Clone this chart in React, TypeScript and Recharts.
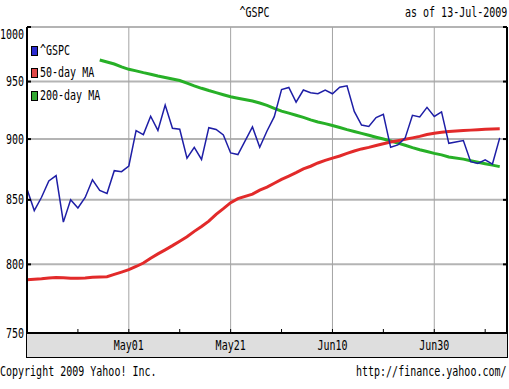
import React from 'react';
import { LineChart, Line, XAxis, YAxis, CartesianGrid, ReferenceLine } from 'recharts';

// x = weekday index counted from Apr 13 2009 (holidays 30 = May 25, 59 = Jul 3 have no rows)
const tradingDay = [
  0, 1, 2, 3, 4, 5, 6, 7, 8, 9, 10, 11, 12, 13, 14, 15, 16, 17, 18, 19, 20, 21, 22, 23, 24, 25, 26, 27, 28, 29,
  31, 32, 33, 34, 35, 36, 37, 38, 39, 40, 41, 42, 43, 44, 45, 46, 47, 48, 49, 50, 51, 52, 53, 54, 55, 56, 57, 58,
  60, 61, 62, 63, 64, 65,
];

const gspc = [
  858.73, 841.5, 852.06, 865.3, 869.6, 832.39, 850.08, 843.55, 851.92, 866.23, 857.51, 855.16, 873.64, 872.81, 877.52,
  907.24, 903.8, 919.53, 907.39, 929.23, 909.24, 908.35, 883.92, 893.07, 882.88, 909.71, 908.13, 903.47, 888.33, 887.0,
  910.33, 893.06, 906.83, 919.14, 942.87, 944.74, 931.76, 942.46, 940.09, 939.14, 942.43, 939.15, 944.89, 946.21,
  923.72, 911.97, 910.71, 918.37, 921.23, 893.04, 895.1, 900.94, 920.26, 918.9, 927.23, 919.32, 923.33, 896.42,
  898.72, 881.03, 879.56, 882.68, 879.13, 901.05,
];

const ma50 = [
  788.5, 788.8, 789.2, 789.8, 790.2, 790.0, 789.6, 789.6, 789.8, 790.3, 790.6, 790.8, 792.5, 794.2, 796.0,
  798.4, 801.0, 804.6, 807.9, 811.0, 814.2, 817.6, 821.0, 825.2, 829.0, 833.2, 838.5, 843.0, 847.8, 851.0,
  854.6, 857.8, 860.2, 863.4, 866.5, 869.2, 872.0, 875.1, 877.3, 880.0, 882.2, 884.0, 885.8, 888.0,
  890.0, 891.7, 893.0, 894.6, 896.0, 897.5, 898.6, 899.8, 901.0, 902.3, 903.8, 905.0, 905.8, 906.4,
  907.2, 907.6, 907.9, 908.3, 908.6, 908.7,
];

const ma200 = [
  null, null, null, null, null, null, null, null, null, null,
  969.5, 967.6, 965.8, 963.2, 961.0, 959.6, 958.0, 956.6, 955.0, 953.6, 952.3, 950.9, 948.6, 946.2, 944.0,
  942.0, 940.2, 938.3, 936.5, 935.2,
  932.8, 931.0, 929.0, 926.4, 924.0, 922.2, 920.4, 918.5, 916.4, 914.6, 913.2, 911.5, 909.8, 908.0,
  906.4, 904.8, 903.2, 901.6, 900.0, 898.4, 896.6, 894.8, 892.8, 891.0, 889.6, 888.0, 886.7, 885.0,
  883.2, 881.9, 880.6, 879.4, 878.2, 877.0,
];

const xTicks = [7, 14, 21, 28, 35, 42, 49, 56, 63];
const xLabels: Record<number, string> = { 14: 'May01', 28: 'May21', 42: 'Jun10', 56: 'Jun30' };
const majorDays = [14, 28, 42, 56];
const yTicks = [750, 800, 850, 900, 950, 1000];

const series = [
  { key: 'gspc', name: '^GSPC', color: '#1e1ea6', swatch: '#2b2bd0', width: 1.5 },
  { key: 'ma50', name: '50-day MA', color: '#e22a2a', swatch: '#e04848', width: 3 },
  { key: 'ma200', name: '200-day MA', color: '#27b027', swatch: '#33a833', width: 3 },
];

const data = tradingDay.map((d, i) => ({ d, gspc: gspc[i], ma50: ma50[i], ma200: ma200[i] }));

const FONT = '"DejaVu Sans Mono", monospace';

const Txt = ({ x, y, anchor, children }: any) => (
  <text
    transform={`translate(${x},${y}) scale(1,1.35)`}
    textAnchor={anchor}
    dominantBaseline="central"
    fontFamily={FONT}
    fontSize={10}
    fill="#000"
  >
    {children}
  </text>
);

const BottomTick = ({ x, y, payload }: any) => {
  const lbl = xLabels[payload.value];
  return (
    <g>
      <line x1={x} x2={x} y1={y} y2={y - 4} stroke="#000" />
      {lbl && <Txt x={x} y={y + 12} anchor="middle">{lbl}</Txt>}
    </g>
  );
};

const TopTick = ({ x, y }: any) => <line x1={x} x2={x} y1={y} y2={y + 4} stroke="#000" />;

const LeftTick = ({ x, y, payload }: any) => (
  <g>
    <line x1={x} x2={x + 4} y1={y} y2={y} stroke="#000" strokeWidth={2} />
    <Txt x={x - 3} y={Math.max(y, 34)} anchor="end">{payload.value}</Txt>
  </g>
);

const RightTick = ({ x, y }: any) => <line x1={x} x2={x - 4} y1={y} y2={y} stroke="#000" strokeWidth={2} />;

const label = (text: string, left: number, top: number, extra: any = {}) => (
  <div
    style={{
      position: 'absolute',
      left,
      top: top - 6,
      height: 12,
      lineHeight: '12px',
      fontFamily: FONT,
      fontSize: 10,
      whiteSpace: 'pre',
      transform: 'scaleY(1.35)',
      ...extra,
    }}
  >
    {text}
  </div>
);

export default function App() {
  return (
    <div
      style={{ position: 'absolute', left: 0, top: 0, width: 509, height: 389, overflow: 'hidden', background: '#fff' }}
    >
      {label('^GSPC', 0, 13, { width: 509, textAlign: 'center' })}
      {label('as of 13-Jul-2009', 405, 13)}
      <div
        style={{
          position: 'absolute',
          left: 26,
          top: 333,
          width: 480,
          height: 23,
          background: '#dedede',
          border: '1px solid #000',
        }}
      />
      <LineChart width={509} height={389} data={data} margin={{ top: 27, right: 0, left: 0, bottom: 0 }}>
        <CartesianGrid yAxisId="left" vertical={false} stroke="#b4b4b4" strokeWidth={2} />
        {majorDays.map((d) => (
          <ReferenceLine key={d} x={d} yAxisId="left" stroke="#a4a4a4" strokeWidth={1} />
        ))}
        <XAxis
          dataKey="d"
          type="number"
          domain={[0, 66]}
          ticks={xTicks}
          interval={0}
          height={56}
          tickSize={0}
          tickMargin={0}
          tick={<BottomTick />}
          axisLine={{ stroke: '#000', strokeWidth: 2 }}
        />
        <XAxis
          xAxisId="top"
          orientation="top"
          dataKey="d"
          type="number"
          domain={[0, 66]}
          ticks={xTicks}
          interval={0}
          height={0}
          tickSize={0}
          tickMargin={0}
          tick={<TopTick />}
          axisLine={{ stroke: '#000', strokeWidth: 2 }}
        />
        <YAxis
          yAxisId="left"
          scale="log"
          type="number"
          domain={[750, 1000]}
          ticks={yTicks}
          interval={0}
          allowDataOverflow
          width={27}
          tickSize={0}
          tickMargin={0}
          tick={<LeftTick />}
          axisLine={{ stroke: '#000', strokeWidth: 2 }}
        />
        <YAxis
          yAxisId="right"
          orientation="right"
          scale="log"
          type="number"
          domain={[750, 1000]}
          ticks={yTicks}
          interval={0}
          allowDataOverflow
          width={2}
          tickSize={0}
          tickMargin={0}
          tick={<RightTick />}
          axisLine={{ stroke: '#000', strokeWidth: 2 }}
        />
        {[...series].reverse().map((s) => (
          <Line
            key={s.key}
            yAxisId="left"
            dataKey={s.key}
            name={s.name}
            type="linear"
            stroke={s.color}
            strokeWidth={s.width}
            dot={false}
            activeDot={false}
            isAnimationActive={false}
          />
        ))}
      </LineChart>
      {series.map((s, i) => (
        <React.Fragment key={s.key}>
          <div
            style={{
              position: 'absolute',
              left: 31,
              top: [51, 73, 96][i] - 5,
              width: 5,
              height: 8,
              background: s.swatch,
              border: '1px solid #000',
            }}
          />
          {label(s.name, 40, [51, 73, 96][i])}
        </React.Fragment>
      ))}
      {label('Copyright 2009 Yahoo! Inc.', 0, 372)}
      {label('http://finance.yahoo.com/', 356, 372)}
    </div>
  );
}
